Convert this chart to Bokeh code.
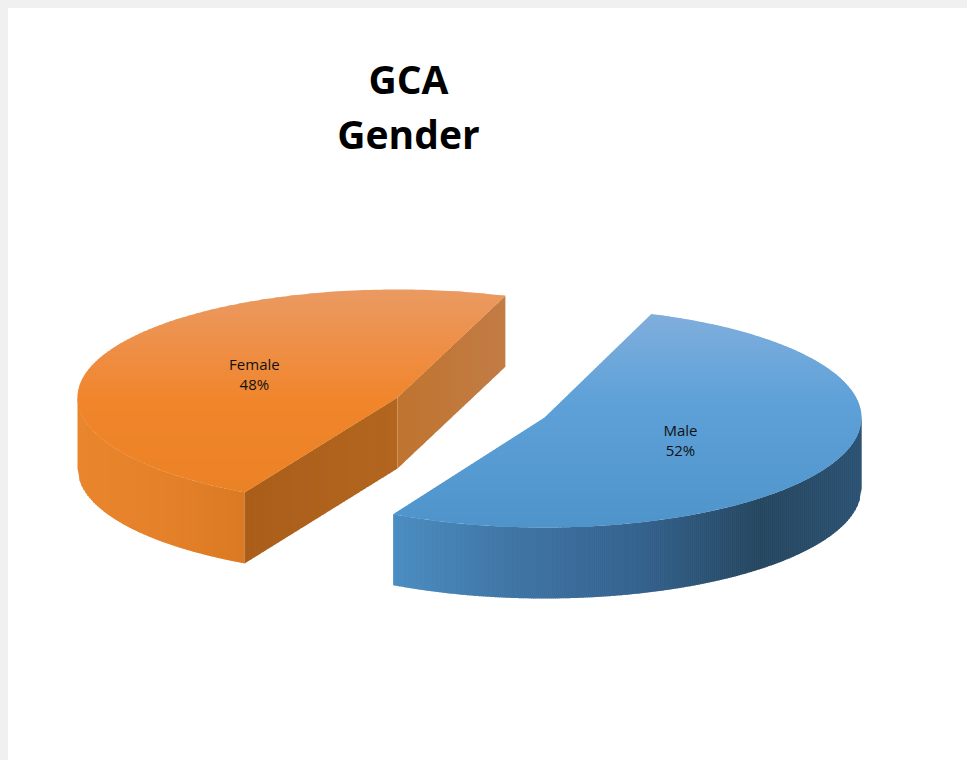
import math
from bokeh.plotting import figure
from bokeh.models import Range1d
from bokeh.core.properties import value
from bokeh.embed import file_html
from bokeh.resources import INLINE

# ---- data ----
categories = ["Female", "Male"]
shares = [47.55, 52.45]        # labels round to 48 / 52
title_lines = ["GCA", "Gender"]

# ---- geometry of the exploded 3-D pie (page pixels) ----
START = 70.3                   # the boundary both slices share, in ellipse-parameter degrees
CX = {"Female": 397, "Male": 544}
CY = {"Female": 397, "Male": 417}
A = {"Female": 320, "Male": 317}
B = {"Female": 108, "Male": 110}
DEPTH = 71
LABEL_FX = {"Female": 0.49, "Male": 0.47}
LABEL_FY = {"Female": 0.49, "Male": 0.54}

# ---- gradient stops: (position, colour) ----
TOP_STOPS = {
    "Female": [(288, "#EA9A63"), (345, "#EE8F48"), (400, "#F0852B"), (491, "#EC8226")],
    "Male": [(315, "#7FAEDC"), (400, "#5EA1D8"), (528, "#4E94CB")],
}
ARC_STOPS = {
    "Female": [(77, "#E9852C"), (160, "#E5812A"), (243, "#DB7A24")],
    "Male": [(389, "#4A8DC2"), (500, "#3F76A6"), (640, "#33618D"), (760, "#25465F"), (861, "#2B5273")],
}
CUT_NEAR = [(243, "#AA5E1A"), (397, "#B2661F")]
CUT_FAR = [(397, "#BF742F"), (505, "#C27C45")]

OVERLAP = 0.7


def hex2rgb(c):
    return [int(c[i:i + 2], 16) for i in (1, 3, 5)]


def ramp(stops, v):
    if v <= stops[0][0]:
        return stops[0][1]
    for (p0, c0), (p1, c1) in zip(stops, stops[1:]):
        if v <= p1:
            f = (v - p0) / (p1 - p0)
            rgb = [round(a + (b - a) * f) for a, b in zip(hex2rgb(c0), hex2rgb(c1))]
            return "#%02X%02X%02X" % tuple(rgb)
    return stops[-1][1]


def clip_y(pts, y0, y1):
    def clip(poly, keep, cross):
        out = []
        for i, p in enumerate(poly):
            q = poly[(i + 1) % len(poly)]
            if keep(p):
                out.append(p)
            if keep(p) != keep(q):
                f = (cross - p[1]) / (q[1] - p[1])
                out.append((p[0] + (q[0] - p[0]) * f, cross))
        return out
    r = clip(pts, lambda p: p[1] >= y0, y0)
    return clip(r, lambda p: p[1] <= y1, y1) if r else r


xs, ys, colors = [], [], []


def add(poly, col):
    xs.append([p[0] for p in poly])
    ys.append([p[1] for p in poly])
    colors.append(col)


def strip(fx_top, depth, stops, x0, x1, step=3):
    x = x0
    while x < x1:
        xm = min(x + step, x1)
        xe = min(xm + OVERLAP, x1)
        add([(x, fx_top(x)), (xe, fx_top(xe)), (xe, fx_top(xe) + depth), (x, fx_top(x) + depth)],
            ramp(stops, (x + xm) / 2))
        x = xm


spans = {}
deg = [s * 3.6 for s in shares]
spans["Male"] = (START - deg[1], START)
spans["Female"] = (START, START + deg[0])

label_x, label_y, label_t = [], [], []

for name, share in zip(categories, shares):
    cx, cy, a, b = CX[name], CY[name], A[name], B[name]
    t0, t1 = spans[name]
    pt = lambda t: (cx + a * math.cos(math.radians(t)), cy - b * math.sin(math.radians(t)))
    n = 180
    arc = [pt(t0 + (t1 - t0) * i / n) for i in range(n + 1)]

    # outer rim: the part of the ellipse that faces the viewer
    if name == "Male":
        rim_lo, rim_hi = arc[0][0], cx + a
    else:
        rim_lo, rim_hi = cx - a, arc[-1][0]
    low = lambda x, cx=cx, a=a, cy=cy, b=b: cy + b * math.sqrt(max(0.0, 1 - ((x - cx) / a) ** 2))
    strip(low, DEPTH, ARC_STOPS[name], rim_lo, rim_hi, step=2)

    # cut faces of the Female slice, which face the gap
    if name == "Female":
        near, far = arc[-1], arc[0]
        line = lambda p, q: (lambda x: p[1] + (q[1] - p[1]) * (x - p[0]) / (q[0] - p[0]))
        strip(line(near, (cx, cy)), DEPTH, CUT_NEAR, near[0], cx)
        strip(line((cx, cy), far), DEPTH, CUT_FAR, cx, far[0])

    # top face, as thin horizontal bands
    poly = arc + [(cx, cy)]
    ymin, ymax = min(p[1] for p in poly), max(p[1] for p in poly)
    y = ymin
    while y < ymax:
        ym = min(y + 2, ymax)
        band = clip_y(poly, y, min(ym + OVERLAP, ymax))
        if band:
            add(band, ramp(TOP_STOPS[name], (y + ym) / 2))
        y = ym

    mid = math.radians((t0 + t1) / 2)
    lx = cx + LABEL_FX[name] * a * math.cos(mid)
    ly = cy - LABEL_FY[name] * b * math.sin(mid)
    label_x += [lx, lx]
    label_y += [ly - 12, ly + 8]
    label_t += [name, f"{round(share)}%"]

p = figure(width=959, height=752, x_range=Range1d(8, 967), y_range=Range1d(760, 8),
           toolbar_location=None, output_backend="svg", min_border=0, margin=(8, 0, 0, 8),
           outline_line_color=None, background_fill_color="white", border_fill_color="white")
p.axis.visible = False
p.grid.visible = False

p.patches(xs, ys, fill_color=colors, line_color=None)

p.text(label_x, label_y, text=label_t, text_font=value("Open Sans"), text_font_size="15px",
       text_color="#111111", text_align="center", text_baseline="middle")
p.text([408, 408], [78, 133], text=title_lines, text_font=value("Open Sans"), text_font_size="39px",
       text_font_style="bold", text_color="#000000", text_align="center", text_baseline="middle")

html = file_html(p, INLINE)
# the faint grey edge along the top and left of the picture
edge = ("<style>html,body{background-color:#fff;background-image:"
        "linear-gradient(#f0f0f0 8px,transparent 8px),linear-gradient(90deg,#f0f0f0 8px,transparent 8px);"
        "background-repeat:no-repeat;overflow:hidden;}</style>")
html = html.replace("</head>", edge + "</head>", 1)
open("out.html", "w").write(html)
